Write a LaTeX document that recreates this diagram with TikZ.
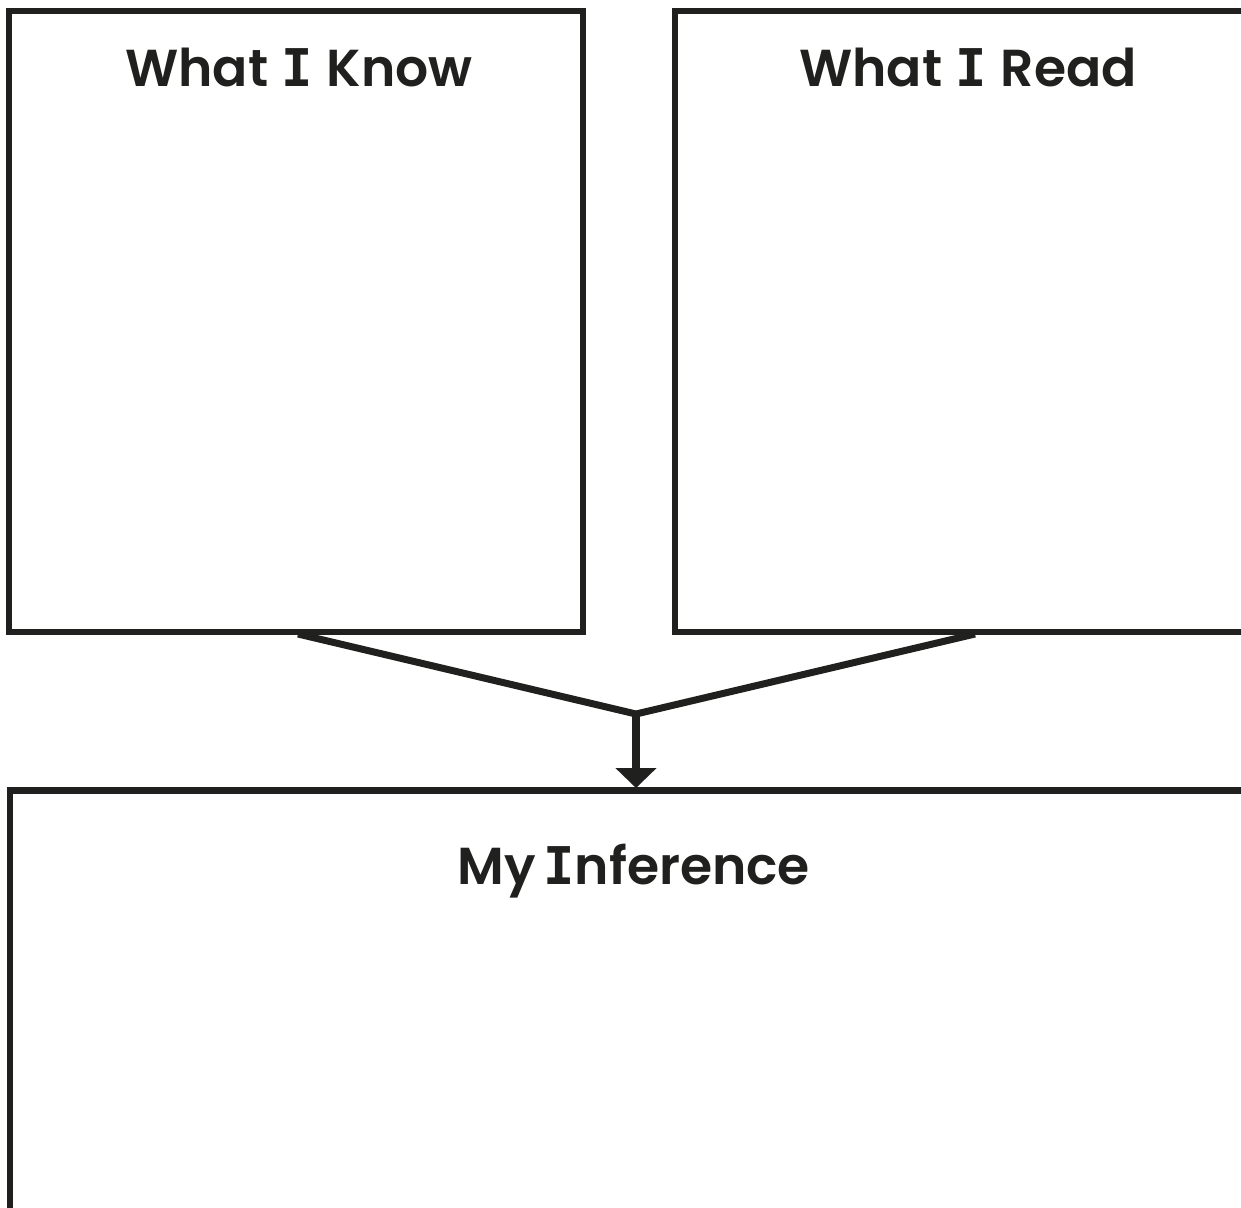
\documentclass[tikz,border=0pt]{standalone}
\usepackage{fontspec}
\setmainfont{Poppins}[BoldFont={* SemiBold}]
\newfontfamily\serifI{DejaVu Sans Mono}
\newcommand{\SI}{{\serifI\bfseries I}}
\usetikzlibrary{arrows.meta}
\definecolor{ink}{RGB}{32,32,30}
\tikzset{
  panel/.style={draw=ink, line width=6.5pt, rectangle, inner sep=0pt},
  title/.style={text=ink, font=\fontsize{52}{60}\selectfont\bfseries, inner sep=0pt, anchor=base},
  link/.style={draw=ink, line width=7pt},
}
\newcommand{\gap}{\hspace{0.26em}}
\begin{document}
\begin{tikzpicture}[x=1pt,y=-1pt]
\useasboundingbox (0,0) rectangle (1241,1207);
\clip (0,0) rectangle (1241,1207);
\node[panel, minimum width=574pt, minimum height=621pt] (know) at (296,321.5) {};
\node[panel, minimum width=600pt, minimum height=621pt] (read) at (975,321.5) {};
\node[panel, minimum width=1260pt, minimum height=600pt] (infer) at (640,1090.5) {};
\node[title] (tknow) at (299,86) {What\gap\SI\gap Know};
\node[title] (tread) at (968,86) {What\gap\SI\gap Read};
\node[title] (tinfer) at (634,884) {My\hspace{0.14em}\SI{}nference};
\coordinate (kb) at (298,634);
\coordinate (rb) at (975,634);
\coordinate (join) at (636,714);
\coordinate (tip) at (636,788);
\draw[link] (kb) -- (join) -- (rb);
\draw[link, line width=7.5pt, -{Triangle[length=20pt,width=40pt]}] (join) -- (tip);
\end{tikzpicture}
\end{document}
